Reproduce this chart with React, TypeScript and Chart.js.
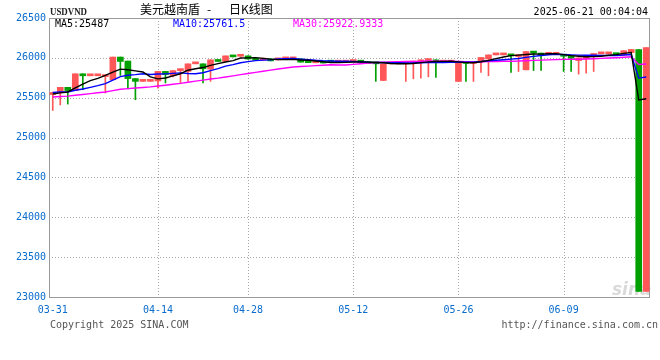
import React, { useEffect, useRef } from 'react';
import { Chart, registerables } from 'chart.js';

Chart.register(...registerables);

// ---------- DATA ----------
const dates = [
  '03-31', '04-01', '04-02', '04-03', '04-04', '04-05', '04-06', '04-07', '04-08', '04-09',
  '04-10', '04-11', '04-12', '04-13', '04-14', '04-15', '04-16', '04-17', '04-18', '04-21',
  '04-22', '04-23', '04-24', '04-25', '04-26', '04-27', '04-28', '04-29', '04-30', '05-01',
  '05-02', '05-03', '05-04', '05-05', '05-06', '05-07', '05-08', '05-09', '05-10', '05-11',
  '05-12', '05-13', '05-14', '05-15', '05-16', '05-17', '05-18', '05-19', '05-20', '05-21',
  '05-22', '05-23', '05-24', '05-25', '05-26', '05-27', '05-28', '05-29', '05-30', '05-31',
  '06-01', '06-02', '06-03', '06-04', '06-05', '06-06', '06-07', '06-08', '06-09', '06-10',
  '06-11', '06-12', '06-13', '06-14', '06-15', '06-16', '06-17', '06-18', '06-19', '06-20',
];

const openP = [
  25540, 25566, 25630, 25590, 25800, 25775, 25775, 25765, 25725, 26010,
  25960, 25740, 25705, 25705, 25710, 25830, 25775, 25840, 25830, 25925,
  25925, 25860, 25975, 25955, 26025, 26020, 26025, 25990, 25972, 25987,
  25975, 25987, 25987, 25987, 25946, 25938, 25945, 25966, 25946, 25946,
  25954, 25966, 25946, 25930, 25716, 25925, 25925, 25925, 25935, 25946,
  25966, 25975, 25946, 25946, 25704, 25940, 25930, 25946, 25987, 26037,
  26037, 26037, 26016, 25850, 26071, 26060, 26045, 26045, 26037, 26029,
  25966, 25990, 26029, 26050, 26050, 26050, 26034, 26066, 26105, 23071,
];
const highP = [
  25570, 25630, 25630, 25800, 25800, 25775, 25775, 25775, 26010, 26010,
  25960, 25740, 25705, 25705, 25830, 25830, 25840, 25840, 25925, 25925,
  25925, 25975, 25975, 26025, 26025, 26020, 26025, 25990, 25980, 25987,
  25987, 25987, 25987, 25987, 25946, 25945, 25945, 25966, 25946, 25946,
  25966, 25966, 25946, 25930, 25925, 25925, 25925, 25935, 25940, 25975,
  25975, 25975, 25946, 25946, 25934, 25940, 25940, 26005, 26037, 26037,
  26037, 26037, 26037, 26079, 26071, 26060, 26045, 26045, 26037, 26029,
  26000, 26010, 26050, 26050, 26050, 26050, 26090, 26105, 26105, 26129,
];
const lowP = [
  25340, 25410, 25420, 25590, 25600, 25775, 25775, 25560, 25725, 25780,
  25610, 25475, 25705, 25705, 25620, 25685, 25760, 25675, 25705, 25925,
  25685, 25705, 25955, 25955, 26012, 26020, 25985, 25972, 25972, 25962,
  25975, 25987, 25987, 25946, 25940, 25938, 25935, 25946, 25946, 25946,
  25954, 25946, 25929, 25705, 25716, 25925, 25925, 25704, 25737, 25746,
  25762, 25754, 25946, 25946, 25704, 25704, 25704, 25816, 25775, 26037,
  26037, 25816, 25829, 25850, 25841, 25841, 26045, 26045, 25829, 25829,
  25796, 25808, 25829, 26050, 26050, 26040, 26034, 26066, 23071, 23071,
];
const closeP = [
  25560, 25630, 25590, 25800, 25775, 25775, 25775, 25775, 26010, 25955,
  25740, 25705, 25705, 25705, 25830, 25790, 25840, 25840, 25925, 25925,
  25862, 25975, 25955, 26025, 26012, 26020, 25985, 25972, 25980, 25962,
  25987, 25987, 25987, 25946, 25940, 25945, 25935, 25946, 25946, 25946,
  25966, 25946, 25929, 25925, 25925, 25925, 25925, 25935, 25940, 25975,
  25975, 25946, 25946, 25946, 25934, 25930, 25940, 26005, 26037, 26037,
  26037, 26025, 26037, 26079, 26060, 26035, 26045, 26045, 26020, 25995,
  26000, 26010, 26050, 26050, 26050, 26040, 26090, 26105, 23071, 26129,
];

// closes before 03-31 (estimated so the moving averages start where the picture shows)
const priorCloses = [
  25450, 25460, 25470, 25460, 25455, 25470, 25480, 25480, 25470, 25475,
  25490, 25485, 25490, 25500, 25495, 25490, 25500, 25495, 25490, 25505,
  25560, 25600, 25590, 25610, 25570, 25560, 25530, 25550, 25530,
];

const xTickLabels = ['03-31', '04-14', '04-28', '05-12', '05-26', '06-09'];
const yMin = 23000;
const yMax = 26500;
const yStep = 500;

const symbolText = 'USDVND';
const titleParts = ['美元越南盾', '-', '日K线图'];
const timeText = '2025-06-21 00:04:04';
const maLegend = ['MA5:25487', 'MA10:25761.5', 'MA30:25922.9333'];
const copyrightText = 'Copyright 2025 SINA.COM';
const urlText = 'http://finance.sina.com.cn';
const watermarkText = 'sina';

// ---------- STYLE ----------
const UP = '#ff5757';
const DOWN = '#00a000';
const AXIS_BLUE = '#0a6ccc';
const MONO = '"DejaVu Sans Mono", monospace';

function movingAverage(n: number): number[] {
  const all = priorCloses.concat(closeP);
  const off = priorCloses.length;
  return closeP.map((_, i) => {
    let s = 0;
    for (let k = 0; k < n; k++) s += all[off + i - k];
    return s / n;
  });
}

const overlayPlugin = {
  id: 'sinaOverlay',
  beforeDatasetsDraw(chart: any) {
    const { ctx, chartArea: a, scales } = chart;
    const x = scales.x;
    const y = scales.y;
    ctx.save();
    // watermark
    ctx.fillStyle = '#d9d9d9';
    ctx.font = 'italic bold 17px "DejaVu Sans", sans-serif';
    ctx.textAlign = 'left';
    ctx.textBaseline = 'alphabetic';
    ctx.fillText(watermarkText, 612, 295);
    // dotted grid
    ctx.strokeStyle = '#a8a8a8';
    ctx.lineWidth = 1;
    ctx.setLineDash([1, 2]);
    for (let v = yMin + yStep; v < yMax; v += yStep) {
      const py = Math.round(y.getPixelForValue(v)) + 0.5;
      ctx.beginPath();
      ctx.moveTo(a.left, py);
      ctx.lineTo(a.right, py);
      ctx.stroke();
    }
    for (const lbl of xTickLabels) {
      const i = dates.indexOf(lbl);
      if (i <= 0) continue;
      const px = Math.round(x.getPixelForValue(i)) + 0.5;
      ctx.beginPath();
      ctx.moveTo(px, a.top);
      ctx.lineTo(px, a.bottom);
      ctx.stroke();
    }
    ctx.setLineDash([]);
    ctx.strokeStyle = '#999';
    ctx.strokeRect(Math.round(a.left) + 0.5, Math.round(a.top) + 0.5, Math.round(a.right - a.left) - 1, Math.round(a.bottom - a.top));
    ctx.restore();
  },
  afterDraw(chart: any) {
    const { ctx, chartArea: a } = chart;
    ctx.save();
    ctx.textBaseline = 'alphabetic';
    // symbol
    ctx.fillStyle = '#222';
    ctx.font = 'bold 10px "Liberation Serif", serif';
    ctx.textAlign = 'left';
    ctx.fillText(symbolText, 50, 15, 37);
    // title
    ctx.fillStyle = '#000';
    ctx.font = '12px "Noto Sans CJK SC", sans-serif';
    ctx.fillText(titleParts[0], 140, 14);
    ctx.fillText(titleParts[1], 207, 14);
    ctx.fillText(titleParts[2], 229, 14);
    // time
    ctx.font = '10px ' + MONO;
    ctx.textAlign = 'right';
    ctx.fillText(timeText, 648, 15);
    // MA legend
    ctx.textAlign = 'left';
    const cols = ['#000000', '#0000ff', '#ff00ff'];
    const xs = [55, 173, 293];
    maLegend.forEach((t, i) => {
      ctx.fillStyle = cols[i];
      ctx.fillText(t, xs[i], a.top + 9);
    });
    // footer
    ctx.fillStyle = '#555';
    ctx.fillText(copyrightText, 50, 328);
    ctx.textAlign = 'right';
    ctx.fillText(urlText, 658, 328);
    ctx.restore();
  },
};

export default function App() {
  const ref = useRef<HTMLCanvasElement | null>(null);

  useEffect(() => {
    if (!ref.current) return;
    const colors = closeP.map((c, i) => (c >= openP[i] ? UP : DOWN));
    const bodies = closeP.map((c, i) => [Math.min(openP[i], c), Math.max(openP[i], c)]);
    const wicks = closeP.map((_, i) => [lowP[i], highP[i]]);
    const ma5 = movingAverage(5);
    const ma10 = movingAverage(10);
    const ma30 = movingAverage(30);

    const chart = new Chart(ref.current, {
      type: 'bar',
      data: {
        labels: dates,
        datasets: [
          { type: 'line', label: 'MA5', data: ma5, borderColor: '#000000', borderWidth: 1.4, pointRadius: 0, tension: 0, order: 0 } as any,
          { type: 'line', label: 'MA10', data: ma10, borderColor: '#0000ff', borderWidth: 1.4, pointRadius: 0, tension: 0, order: 1 } as any,
          { type: 'line', label: 'MA30', data: ma30, borderColor: '#ff00ff', borderWidth: 1.4, pointRadius: 0, tension: 0, order: 2 } as any,
          { type: 'bar', label: 'body', data: bodies, backgroundColor: colors, barThickness: 6, minBarLength: 2, grouped: false, borderWidth: 0, order: 3 } as any,
          { type: 'bar', label: 'wick', data: wicks, backgroundColor: colors, barThickness: 1, minBarLength: 1, grouped: false, borderWidth: 0, order: 4 } as any,
        ],
      },
      options: {
        responsive: false,
        maintainAspectRatio: false,
        devicePixelRatio: 1,
        animation: false,
        layout: { padding: { top: 18, right: 10, left: 0, bottom: 0 } },
        plugins: { legend: { display: false }, tooltip: { enabled: false } },
        scales: {
          x: {
            type: 'category',
            offset: true,
            grid: { display: false, drawTicks: false },
            border: { display: false },
            ticks: {
              autoSkip: false,
              maxRotation: 0,
              minRotation: 0,
              padding: 7,
              color: AXIS_BLUE,
              font: { family: MONO, size: 10 },
              callback: (_v: any, i: number) => (xTickLabels.includes(dates[i]) ? dates[i] : ''),
            },
            afterFit: (s: any) => { s.height = 63; },
          },
          y: {
            min: yMin,
            max: yMax,
            grid: { display: false, drawTicks: false },
            border: { display: false },
            ticks: {
              stepSize: yStep,
              padding: 3,
              color: AXIS_BLUE,
              font: { family: MONO, size: 10 },
              callback: (v: any) => String(v),
            },
            afterFit: (s: any) => { s.width = 49; },
          },
        },
      } as any,
      plugins: [overlayPlugin],
    });
    return () => chart.destroy();
  }, []);

  return (
    <div style={{ position: 'absolute', left: 0, top: 0, width: 660, height: 360, background: '#fff' }}>
      <canvas ref={ref} width={660} height={360} style={{ width: 660, height: 360, display: 'block' }} />
    </div>
  );
}
